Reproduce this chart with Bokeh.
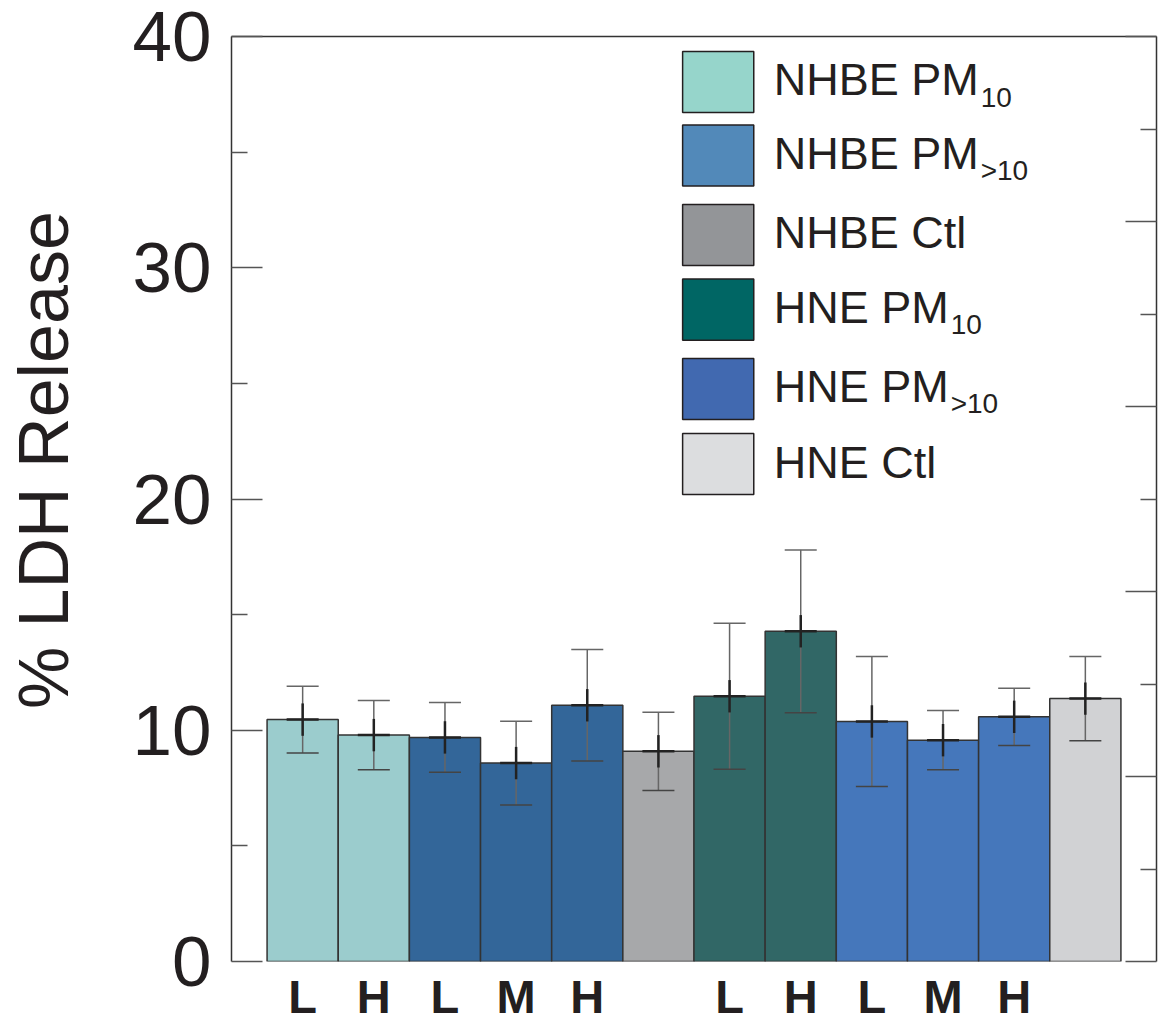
from bokeh.plotting import figure
from bokeh.models import Range1d, LinearAxis, FixedTicker, ColumnDataSource, CustomLabelingPolicy
from bokeh.core.properties import value
from bokeh.embed import file_html
from bokeh.resources import INLINE

# ---------------- data ----------------
dose_labels = ["L", "H", "L", "M", "H", "", "L", "H", "L", "M", "H", ""]
groups = ["NHBE PM10", "NHBE PM10", "NHBE PM>10", "NHBE PM>10", "NHBE PM>10", "NHBE Ctl",
          "HNE PM10", "HNE PM10", "HNE PM>10", "HNE PM>10", "HNE PM>10", "HNE Ctl"]
ldh_mean = [10.46, 9.79, 9.69, 8.58, 11.08, 9.09, 11.47, 14.28, 10.38, 9.57, 10.58, 11.37]
ldh_err = [1.44, 1.50, 1.51, 1.81, 2.41, 1.69, 3.16, 3.52, 2.81, 1.28, 1.24, 1.82]

group_names = ["NHBE PM10", "NHBE PM>10", "NHBE Ctl", "HNE PM10", "HNE PM>10", "HNE Ctl"]
legend_main = ["NHBE PM", "NHBE PM", "NHBE Ctl", "HNE PM", "HNE PM", "HNE Ctl"]
legend_sub = ["10", ">10", "", "10", ">10", ""]
bar_colors = {"NHBE PM10": "#9bcccd", "NHBE PM>10": "#336699", "NHBE Ctl": "#a7a8aa",
              "HNE PM10": "#316766", "HNE PM>10": "#4577bb", "HNE Ctl": "#d1d2d4"}
legend_colors = ["#96d5cb", "#5289b9", "#939598", "#006664", "#4169b0", "#dcdddf"]

# ---------------- layout constants ----------------
legend_y = [38.03, 34.85, 31.42, 28.19, 24.76, 21.51]
legend_box_x = 6.84
legend_text_x = 7.62
sub_offsets = [207, 207, 0, 177, 177, 0]

INK = "#231f20"

xs = list(range(1, len(ldh_mean) + 1))
src = ColumnDataSource(dict(
    x=xs, top=ldh_mean,
    lo=[m - e for m, e in zip(ldh_mean, ldh_err)],
    hi=[m + e for m, e in zip(ldh_mean, ldh_err)],
    mlo=[m - 0.7 for m in ldh_mean],
    mhi=[m + 0.7 for m in ldh_mean],
    cl=[x - 0.225 for x in xs], cr=[x + 0.225 for x in xs],
    color=[bar_colors[g] for g in groups],
))

p = figure(width=1160, height=1026, output_backend="svg", toolbar_location=None,
           x_range=Range1d(0, 13), y_range=Range1d(0, 40),
           min_border_left=231, min_border_right=3, min_border_top=36, min_border_bottom=65)
p.extra_y_ranges = {"right": Range1d(0, 10)}
p.grid.visible = False
p.outline_line_color = None
p.background_fill_color = "white"
p.border_fill_color = "white"

# bars
p.vbar(x="x", top="top", bottom=0, width=1.0, source=src, fill_color="color",
       line_color="#333333", line_width=1.5)

# error bars
p.segment(x0="x", y0="lo", x1="x", y1="hi", source=src, line_color="#666666", line_width=1.5)
p.segment(x0="cl", y0="hi", x1="cr", y1="hi", source=src, line_color="#666666", line_width=1.5)
p.segment(x0="cl", y0="lo", x1="cr", y1="lo", source=src, line_color="#444444", line_width=1.5)
p.segment(x0="x", y0="mlo", x1="x", y1="mhi", source=src, line_color="#222222", line_width=2.5)
p.segment(x0="cl", y0="top", x1="cr", y1="top", source=src, line_color="#222222", line_width=2.5)

# legend (manual, to allow subscripts)
lsrc = ColumnDataSource(dict(
    x=[legend_box_x] * 6, y=legend_y, color=legend_colors,
    tx=[legend_text_x] * 6, ty=[v + 0.09 for v in legend_y],
    sy=[v - 0.65 for v in legend_y],
    main=legend_main, sub=legend_sub, soff=sub_offsets,
))
p.rect(x="x", y="y", width=1.0, height=2.64, source=lsrc, fill_color="color",
       line_color=INK, line_width=1.5)
p.text(x="tx", y="ty", text="main", source=lsrc, text_font=value("Liberation Sans"),
       text_font_size="45px", text_color=INK, text_baseline="alphabetic", text_align="left")
p.text(x="tx", y="sy", text="sub", x_offset="soff", source=lsrc, text_font=value("Liberation Sans"),
       text_font_size="28px", text_color=INK, text_baseline="alphabetic", text_align="left")

# left axis
ya = p.yaxis[0]
ya.ticker = FixedTicker(ticks=[0, 10, 20, 30, 40], minor_ticks=[5, 15, 25, 35])
ya.major_tick_in = 31
ya.major_tick_out = 0
ya.minor_tick_in = 16
ya.minor_tick_out = 0
ya.axis_line_color = "#333333"
ya.axis_line_width = 1.5
ya.major_tick_line_color = "#555555"
ya.major_tick_line_width = 1.5
ya.minor_tick_line_color = "#555555"
ya.minor_tick_line_width = 1.5
ya.major_label_text_font = "Liberation Sans"
ya.major_label_text_font_size = "71px"
ya.major_label_text_color = INK
ya.major_label_standoff = 20
ya.axis_label = "\u00a0\u00a0\u00a0\u00a0% LDH Release"
ya.axis_label_text_font = "Liberation Sans"
ya.axis_label_text_font_size = "70px"
ya.axis_label_text_font_style = "normal"
ya.axis_label_text_color = INK
ya.axis_label_standoff = 47

# bottom axis (dose labels)
xa = p.xaxis[0]
tick_pos = [x for x, lab in zip(xs, dose_labels) if lab]
xa.ticker = FixedTicker(ticks=tick_pos)
xa.major_label_overrides = {x: lab for x, lab in zip(xs, dose_labels) if lab}
xa.axis_line_color = None
xa.major_tick_line_color = None
xa.minor_tick_line_color = None
xa.major_label_text_font = "Liberation Sans"
xa.major_label_text_font_style = "bold"
xa.major_label_text_font_size = "47px"
xa.major_label_text_color = INK
xa.major_label_standoff = 2

# top border
ta = LinearAxis(ticker=FixedTicker(ticks=[]), axis_line_color="#333333", axis_line_width=1.5,
                major_tick_line_color=None, minor_tick_line_color=None,
                major_label_text_font_size="0px")
p.add_layout(ta, "above")

# right axis (unlabelled scale 0-10)
ra = LinearAxis(y_range_name="right",
                ticker=FixedTicker(ticks=[0, 2, 4, 6, 8, 10], minor_ticks=[1, 3, 5, 7, 9]),
                major_tick_in=31, major_tick_out=0, minor_tick_in=16, minor_tick_out=0,
                axis_line_color="#333333", axis_line_width=1.5,
                major_tick_line_color="#555555", major_tick_line_width=1.5,
                minor_tick_line_color="#555555", minor_tick_line_width=1.5,
                major_label_policy=CustomLabelingPolicy(code="return new Set()"),
                major_label_text_font_size="1px", major_label_standoff=0)
p.add_layout(ra, "right")

open("out.html", "w").write(file_html(p, INLINE))
